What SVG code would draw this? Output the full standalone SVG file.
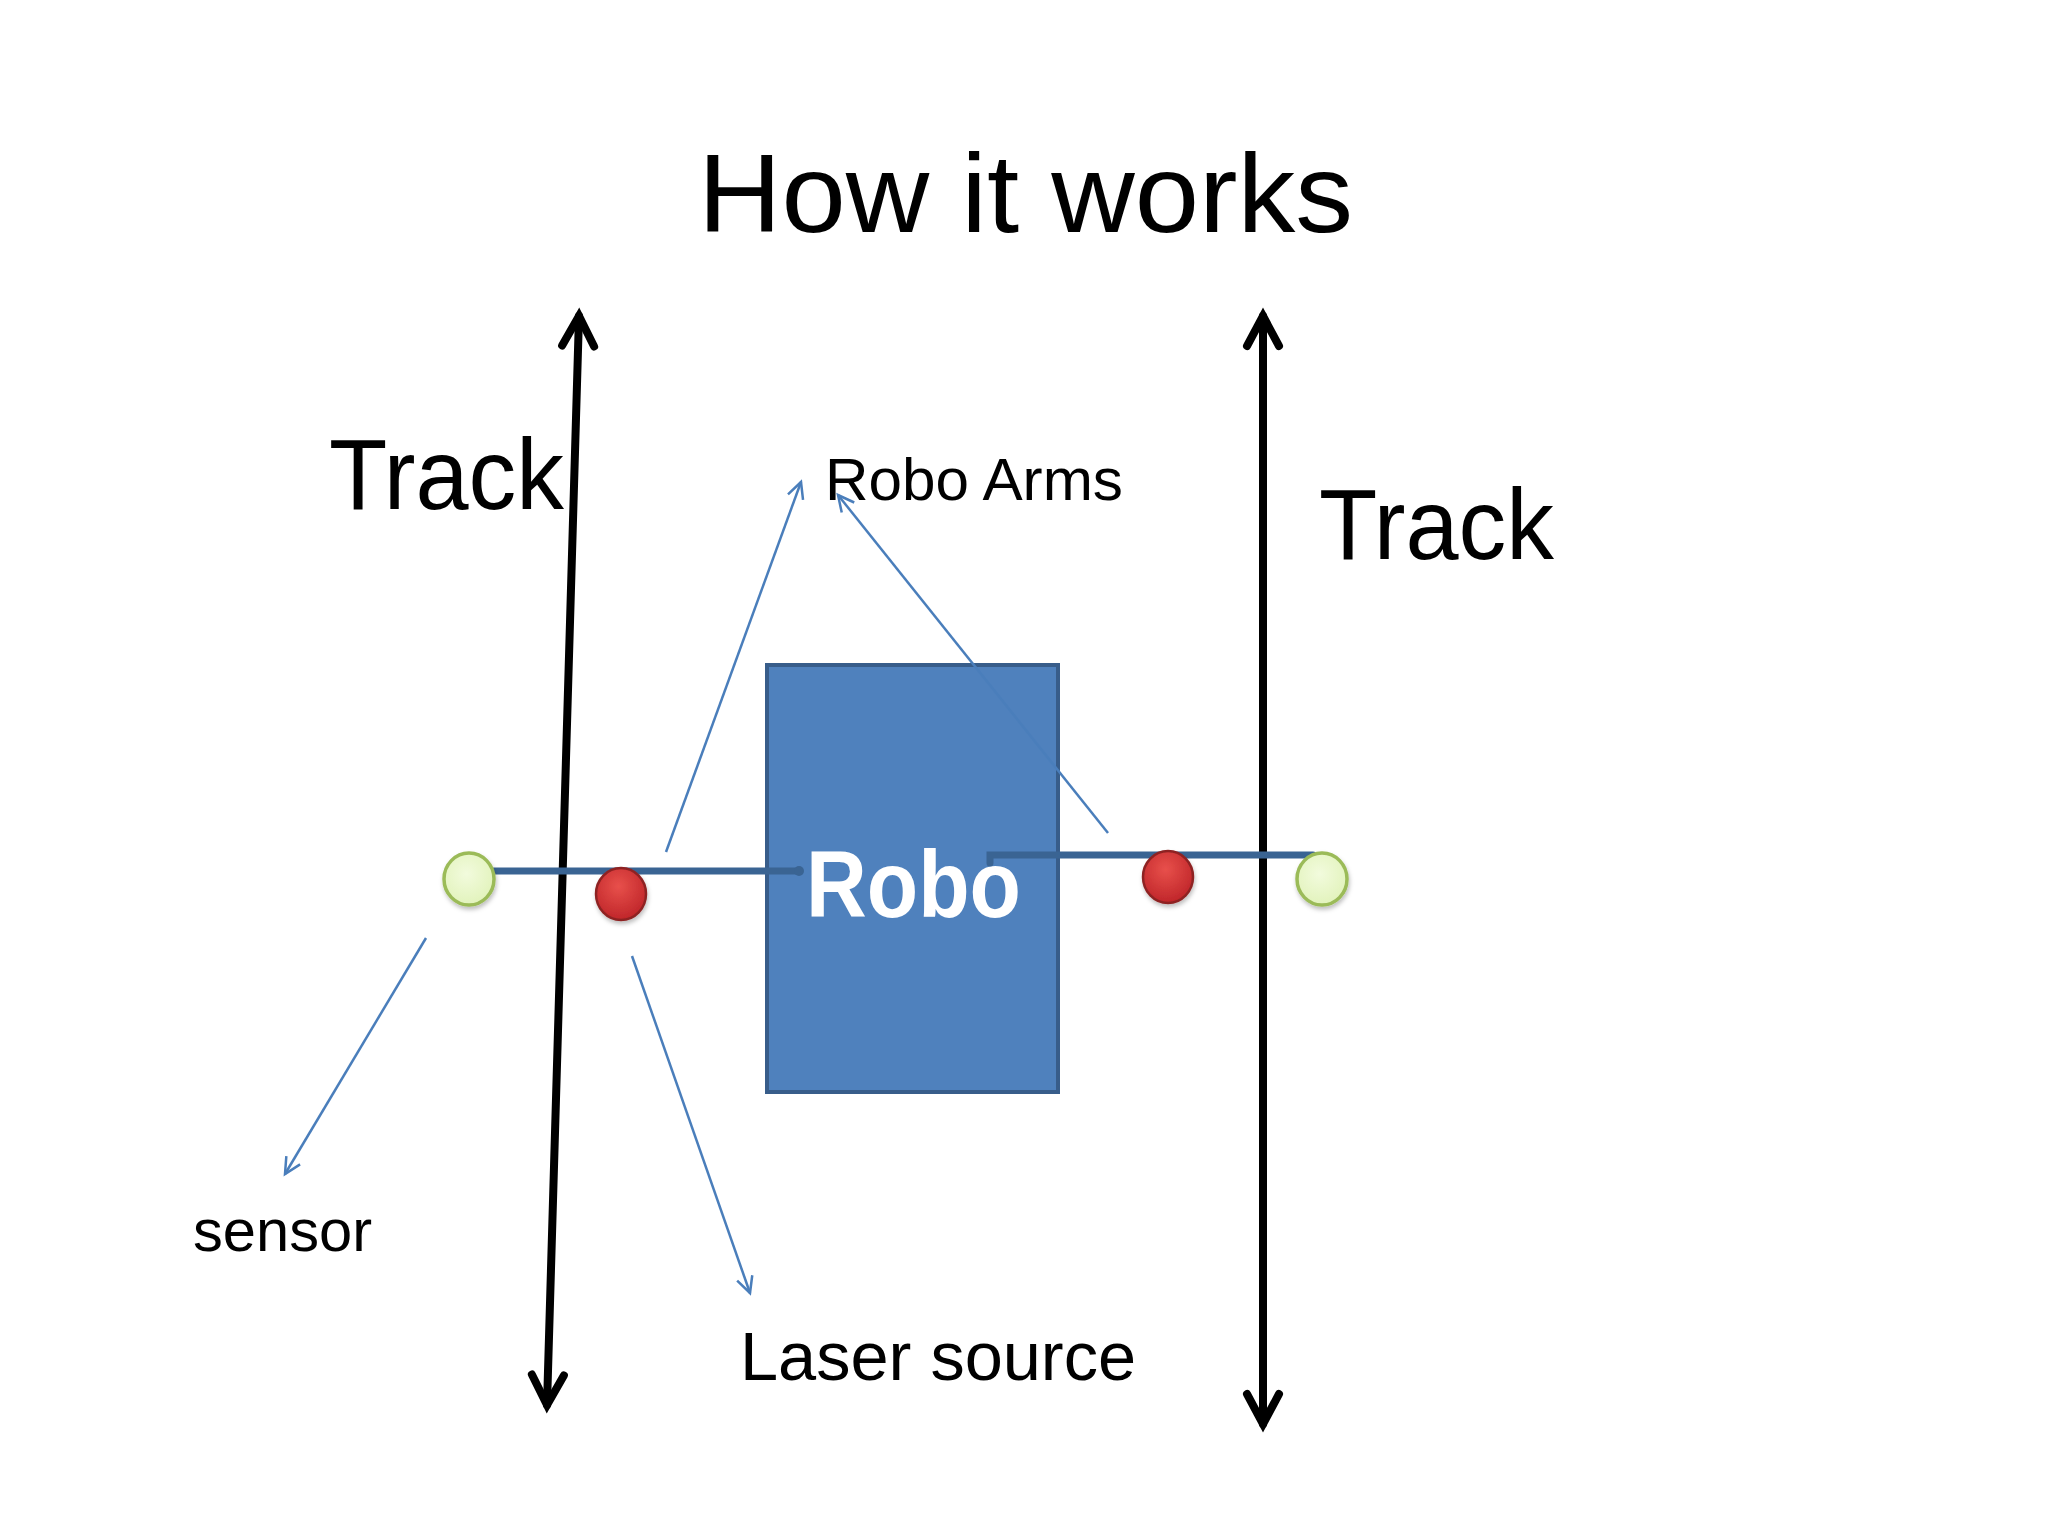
<svg xmlns="http://www.w3.org/2000/svg" width="2048" height="1536" viewBox="0 0 2048 1536">
<defs>
<style>
.t{font-family:"Liberation Sans",Arial,sans-serif;fill:#000}
.track{stroke:#000;stroke-width:8;fill:none;stroke-linecap:round}
.thin{stroke:#4A7EBB;stroke-width:2.5;fill:none}
.arm{stroke:#3A6493;stroke-width:7;fill:none;stroke-linecap:round}
.green{fill:url(#gg);stroke:#9BBB59;stroke-width:3.5}
.red{fill:url(#rg);stroke:#8E2424;stroke-width:2.5}
</style>
<radialGradient id="gg" cx="0.45" cy="0.4" r="0.6"><stop offset="0" stop-color="#F2FBDD"/><stop offset="1" stop-color="#E2F3BC"/></radialGradient>
<radialGradient id="rg" cx="0.45" cy="0.35" r="0.65"><stop offset="0" stop-color="#E8504B"/><stop offset="1" stop-color="#C0262A"/></radialGradient>
<marker id="bh" markerUnits="userSpaceOnUse" markerWidth="50" markerHeight="50" refX="0" refY="0" viewBox="-40 -25 50 50" orient="auto-start-reverse">
<path d="M-30,-16 L0,0 L-30,16" fill="none" stroke="#000" stroke-width="8" stroke-linecap="round" stroke-linejoin="miter"/>
</marker>
<marker id="th" markerUnits="userSpaceOnUse" markerWidth="30" markerHeight="30" refX="0" refY="0" viewBox="-20 -15 30 30" orient="auto">
<path d="M-16,-8 L0,0 L-16,8" fill="none" stroke="#4A7EBB" stroke-width="2.5"/>
</marker>
<filter id="sh" x="-30%" y="-30%" width="160%" height="160%"><feDropShadow dx="1" dy="3" stdDeviation="2" flood-color="#000" flood-opacity="0.25"/></filter>
</defs>
<rect width="2048" height="1536" fill="#fff"/>

<g id="title"><text class="t" x="698" y="232" font-size="112" textLength="655" lengthAdjust="spacingAndGlyphs">How it works</text></g>

<g id="robo">
<rect x="767" y="665" width="291" height="427" fill="#4F81BD" stroke="#385D8A" stroke-width="4"/>
<text x="806" y="917" font-family="'Liberation Sans',Arial,sans-serif" font-weight="bold" font-size="95" fill="#fff" textLength="215" lengthAdjust="spacingAndGlyphs">Robo</text>
</g>

<g id="connectors">
<path class="track" d="M579,316 L547,1405" marker-start="url(#bh)" marker-end="url(#bh)"/>
<path class="track" d="M1263,316 L1263,1424" marker-start="url(#bh)" marker-end="url(#bh)"/>
<path class="arm" d="M494,871 L799,871"/>
<circle cx="799" cy="871" r="5" fill="#3A6493"/>
<path class="arm" d="M990,863 L990,855 L1313,855"/>
<path class="thin" d="M666,852 L801,482" marker-end="url(#th)"/>
<path class="thin" d="M1108,833 L838,495" marker-end="url(#th)"/>
<path class="thin" d="M426,938 L285,1174" marker-end="url(#th)"/>
<path class="thin" d="M632,956 L750,1293" marker-end="url(#th)"/>
</g>

<g id="sensor-left"><ellipse class="green" cx="469" cy="879" rx="25" ry="26" filter="url(#sh)"/></g>
<g id="sensor-right"><ellipse class="green" cx="1322" cy="879" rx="25" ry="26" filter="url(#sh)"/></g>
<g id="laser-left"><ellipse class="red" cx="621" cy="894" rx="25" ry="26" filter="url(#sh)"/></g>
<g id="laser-right"><ellipse class="red" cx="1168" cy="877" rx="25" ry="26" filter="url(#sh)"/></g>

<g id="labels">
<text class="t" x="329" y="509" font-size="100" textLength="235" lengthAdjust="spacingAndGlyphs">Track</text>
<text class="t" x="1319" y="559" font-size="100" textLength="235" lengthAdjust="spacingAndGlyphs">Track</text>
<text class="t" x="825" y="500" font-size="60" textLength="298" lengthAdjust="spacingAndGlyphs">Robo Arms</text>
<text class="t" x="193" y="1251" font-size="60" textLength="179" lengthAdjust="spacingAndGlyphs">sensor</text>
<text class="t" x="740" y="1380" font-size="68" textLength="396" lengthAdjust="spacingAndGlyphs">Laser source</text>
</g>
</svg>
